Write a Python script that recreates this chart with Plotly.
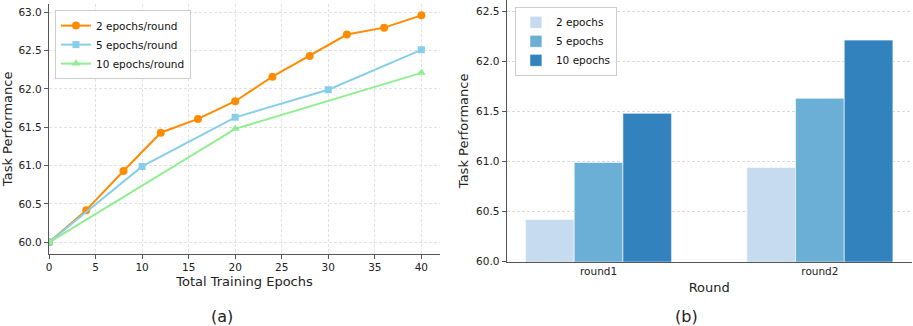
import plotly.graph_objects as go

# (a) performance vs total epochs
ep2_x = [0, 4, 8, 12, 16, 20, 24, 28, 32, 36, 40]
ep2_y = [60.0, 60.42, 60.93, 61.43, 61.61, 61.84, 62.16, 62.43, 62.71, 62.80, 62.96]
ep5_x = [0, 10, 20, 30, 40]
ep5_y = [60.0, 60.99, 61.63, 61.99, 62.51]
ep10_x = [0, 20, 40]
ep10_y = [60.0, 61.48, 62.21]

# (b) performance per round
rounds = ["round1", "round2"]
bar_2 = [60.42, 60.94]
bar_5 = [60.99, 61.63]
bar_10 = [61.48, 62.21]

FONT = "DejaVu Sans"
SPINE = "#555555"
GRID = "#e2e2e2"

fig = go.Figure()

line_series = [
    ("2 epochs/round", ep2_x, ep2_y, "#ff8c00", "circle", 8),
    ("5 epochs/round", ep5_x, ep5_y, "#87ceeb", "square", 7),
    ("10 epochs/round", ep10_x, ep10_y, "#90ee90", "triangle-up", 8),
]
for name, xs, ys, col, sym, sz in line_series:
    fig.add_trace(go.Scatter(
        x=xs, y=ys, name=name, mode="lines+markers",
        line=dict(color=col, width=2),
        marker=dict(color=col, symbol=sym, size=sz),
        xaxis="x", yaxis="y", legend="legend"))

bar_series = [
    ("2 epochs", bar_2, "#c6dbef"),
    ("5 epochs", bar_5, "#6baed6"),
    ("10 epochs", bar_10, "#3182bd"),
]
for name, vals, col in bar_series:
    fig.add_trace(go.Bar(
        x=rounds, y=vals, name=name,
        marker=dict(color=col, line=dict(color="white", width=0.6)),
        width=0.22, xaxis="x2", yaxis="y2", legend="legend2"))

axis_common = dict(
    showline=True, linecolor=SPINE, linewidth=1.2,
    ticks="outside", ticklen=4, tickcolor=SPINE,
    tickfont=dict(size=10.5, color="#222"),
    zeroline=False, mirror=False, automargin=False,
)
grid_style = dict(showgrid=True, gridcolor=GRID, griddash="3px,2px", gridwidth=0.8)

fig.update_layout(
    width=913, height=326,
    margin=dict(l=0, r=0, t=0, b=0, autoexpand=False),
    paper_bgcolor="white", plot_bgcolor="white",
    font=dict(family=FONT, color="#222"),
    barmode="group", bargap=0.34, bargroupgap=0,
    xaxis=dict(domain=[0.0537, 0.4819], anchor="y", range=[0, 42],
               tickvals=[0, 5, 10, 15, 20, 25, 30, 35, 40],
               title=dict(text="Total Training Epochs", font=dict(size=13), standoff=4),
               **grid_style, **axis_common),
    yaxis=dict(domain=[0.2218, 0.9877], anchor="x", range=[59.852, 63.108],
               tickvals=[60.0, 60.5, 61.0, 61.5, 62.0, 62.5, 63.0], tickformat=".1f",
               title=dict(text="Task Performance", font=dict(size=13), standoff=6),
               **grid_style, **axis_common),
    xaxis2=dict(domain=[0.555, 0.9986], anchor="y2", range=[-0.415, 1.415],
                showgrid=False,
                title=dict(text="Round", font=dict(size=13), standoff=6),
                **{**axis_common, "ticks": "", "ticklen": 0}),
    yaxis2=dict(domain=[0.1972, 1.0], anchor="x2", range=[60.0, 62.61],
                tickvals=[60.0, 60.5, 61.0, 61.5, 62.0, 62.5], tickformat=".1f",
                title=dict(text="Task Performance", font=dict(size=13), standoff=4),
                **{**grid_style, "gridcolor": "#dadada"}, **axis_common),
    legend=dict(x=0.0602, y=0.969, xanchor="left", yanchor="top",
                bgcolor="rgba(255,255,255,0.9)", bordercolor="#cccccc", borderwidth=1,
                font=dict(size=10.5, color="#111"), tracegroupgap=0, itemwidth=30),
    legend2=dict(x=0.564, y=0.979, xanchor="left", yanchor="top",
                 bgcolor="rgba(255,255,255,0.9)", bordercolor="#cccccc", borderwidth=1,
                 font=dict(size=10.5, color="#111"), tracegroupgap=0, itemwidth=30),
    annotations=[
        dict(text="(a)", x=222 / 913, y=10 / 326, xref="paper", yref="paper",
             showarrow=False, font=dict(size=16), xanchor="center", yanchor="middle"),
        dict(text="(b)", x=686 / 913, y=10 / 326, xref="paper", yref="paper",
             showarrow=False, font=dict(size=16), xanchor="center", yanchor="middle"),
    ],
)

# the page body has a default 8px margin; drop it so the figure fills the window
fig.write_html("out.html", config={"displayModeBar": False},
               post_script="document.body.style.margin='0';")
